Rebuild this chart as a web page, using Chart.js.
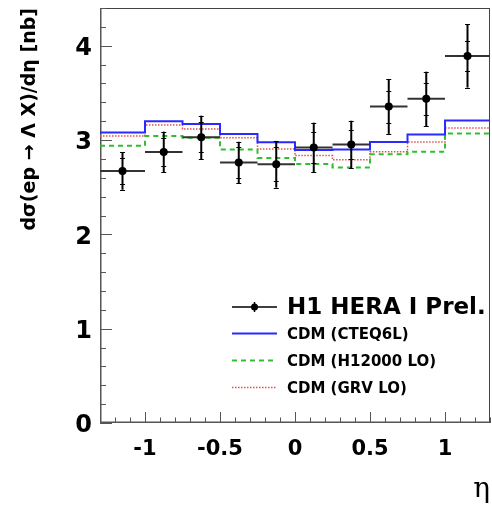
<!DOCTYPE html>
<html>
<head>
<meta charset="utf-8">
<script src="https://cdn.jsdelivr.net/npm/chart.js@4"></script>
<style>
  html, body { margin: 0; padding: 0; background: #fff; }
</style>
</head>
<body>
<canvas id="myChart" width="492" height="508"></canvas>
<script>
// Bins in eta
const binEdges = [-1.3, -1.0, -0.75, -0.5, -0.25, 0, 0.25, 0.5, 0.75, 1.0, 1.3];
const etaCenters = [-1.15, -0.875, -0.625, -0.375, -0.125, 0.125, 0.375, 0.625, 0.875, 1.15];

// H1 data with stat and total errors
const h1Values = [2.673, 2.874, 3.029, 2.762, 2.743, 2.921, 2.953, 3.355, 3.437, 3.892];
const statErr = [0.14, 0.15, 0.16, 0.16, 0.18, 0.16, 0.15, 0.17, 0.17, 0.16];
const totalErr = [0.20, 0.215, 0.23, 0.22, 0.248, 0.263, 0.252, 0.29, 0.288, 0.336];

// CDM predictions
const cteq6l = [3.08, 3.20, 3.17, 3.065, 2.977, 2.895, 2.90, 2.98, 3.06, 3.206];
const h12000 = [2.94, 3.043, 3.025, 2.90, 2.81, 2.746, 2.71, 2.85, 2.877, 3.07];
const grvLo = [3.043, 3.16, 3.118, 3.025, 2.905, 2.835, 2.79, 2.877, 2.98, 3.128];

// Axis ticks
const xTicks = [-1, -0.5, 0, 0.5, 1];
const yTicks = [0, 1, 2, 3, 4];

// histogram as step line: value i holds from edge i to edge i+1
function histPoints(values) {
  const pts = values.map((v, i) => ({ x: binEdges[i], y: v }));
  pts.push({ x: binEdges[binEdges.length - 1], y: values[values.length - 1] });
  return pts;
}

// frame with inner ticks (ROOT style)
const framePlugin = {
  id: "frame",
  beforeDatasetsDraw(chart) {
    const { ctx, chartArea: a, scales: { x, y } } = chart;
    ctx.save();
    ctx.strokeStyle = "#444";
    ctx.lineWidth = 1;
    ctx.strokeRect(a.left + 0.5, a.top + 0.5, a.right - a.left - 1, a.bottom - a.top - 1);
    ctx.strokeStyle = "#555";
    ctx.lineWidth = 1.5;
    ctx.beginPath();
    ctx.moveTo(a.left + 0.75, a.top);
    ctx.lineTo(a.left + 0.75, a.bottom - 0.75);
    ctx.lineTo(a.right, a.bottom - 0.75);
    ctx.stroke();
    ctx.lineWidth = 1;
    ctx.beginPath();
    for (let i = -13; i <= 13; i++) {
      const px = Math.round(x.getPixelForValue(i / 10)) + 0.5;
      const len = i % 5 === 0 ? 11 : 5.5;
      ctx.moveTo(px, a.bottom);
      ctx.lineTo(px, a.bottom - len);
    }
    for (let i = 0; i <= 22; i++) {
      const py = Math.round(y.getPixelForValue(i / 5)) + 0.5;
      const len = i % 5 === 0 ? 12 : 6;
      ctx.moveTo(a.left, py);
      ctx.lineTo(a.left + len, py);
    }
    ctx.stroke();
    ctx.restore();
  },
};

// error bars for the H1 points
const errorBarPlugin = {
  id: "errorBars",
  afterDatasetsDraw(chart) {
    const { ctx, scales: { x, y } } = chart;
    ctx.save();
    etaCenters.forEach((eta, i) => {
      const px = x.getPixelForValue(eta);
      const py = y.getPixelForValue(h1Values[i]);
      // horizontal bin width
      ctx.strokeStyle = "#333";
      ctx.lineWidth = 2;
      ctx.beginPath();
      ctx.moveTo(x.getPixelForValue(binEdges[i]), py);
      ctx.lineTo(x.getPixelForValue(binEdges[i + 1]), py);
      ctx.stroke();
      // vertical total error
      ctx.strokeStyle = "#000";
      ctx.beginPath();
      ctx.moveTo(px, y.getPixelForValue(h1Values[i] + totalErr[i]));
      ctx.lineTo(px, y.getPixelForValue(h1Values[i] - totalErr[i]));
      ctx.stroke();
      // small marks at stat and total errors
      ctx.lineWidth = 1;
      ctx.beginPath();
      [statErr[i], -statErr[i], totalErr[i], -totalErr[i]].forEach((e) => {
        const ey = Math.round(y.getPixelForValue(h1Values[i] + e)) + 0.5;
        ctx.moveTo(px - 2.5, ey);
        ctx.lineTo(px + 2.5, ey);
      });
      ctx.stroke();
      ctx.fillStyle = "#000";
      ctx.beginPath();
      ctx.arc(px, py, 4, 0, Math.PI * 2);
      ctx.fill();
    });
    ctx.restore();
  },
};

// legend inside the plot
const legendPlugin = {
  id: "rootLegend",
  afterDraw(chart) {
    const { ctx } = chart;
    const ds = chart.data.datasets;
    const x0 = 232, x1 = 277, tx = 287;
    ctx.save();
    ctx.textBaseline = "middle";
    ctx.fillStyle = "#000";
    // data entry
    let ly = 307;
    ctx.strokeStyle = "#000";
    ctx.lineWidth = 1.5;
    ctx.beginPath();
    ctx.moveTo(x0, ly);
    ctx.lineTo(x1, ly);
    ctx.moveTo((x0 + x1) / 2, ly - 5);
    ctx.lineTo((x0 + x1) / 2, ly + 5);
    ctx.stroke();
    ctx.beginPath();
    ctx.arc((x0 + x1) / 2, ly, 3.5, 0, Math.PI * 2);
    ctx.fill();
    ctx.font = "bold 23px 'DejaVu Sans'";
    ctx.fillText(ds[0].label, tx, ly + 1);
    // model entries
    ctx.font = "bold 15px 'DejaVu Sans'";
    [333.5, 360.5, 387.5].forEach((yy, k) => {
      const d = ds[k + 1];
      ctx.strokeStyle = d.borderColor;
      ctx.lineWidth = d.borderWidth;
      ctx.setLineDash(d.borderDash || []);
      ctx.beginPath();
      ctx.moveTo(x0, yy);
      ctx.lineTo(x1, yy);
      ctx.stroke();
      ctx.setLineDash([]);
      ctx.fillText(d.label, tx, yy + 1.5);
    });
    ctx.restore();
  },
};

const ctx = document.getElementById("myChart").getContext("2d");

const myChart = new Chart(ctx, {
  type: "scatter",
  data: {
    datasets: [
      {
        label: "H1 HERA I Prel.",
        data: etaCenters.map((e, i) => ({ x: e, y: h1Values[i] })),
        pointRadius: 0,
        showLine: false,
      },
      {
        label: "CDM (CTEQ6L)",
        data: histPoints(cteq6l),
        showLine: true,
        stepped: "before",
        borderColor: "#2a2aff",
        borderWidth: 2,
        pointRadius: 0,
        fill: false,
      },
      {
        label: "CDM (H12000 LO)",
        data: histPoints(h12000),
        showLine: true,
        stepped: "before",
        borderColor: "#2fbf2f",
        borderWidth: 2,
        borderDash: [5, 4],
        pointRadius: 0,
        fill: false,
      },
      {
        label: "CDM (GRV LO)",
        data: histPoints(grvLo),
        showLine: true,
        stepped: "before",
        borderColor: "#e05050",
        borderWidth: 1.5,
        borderDash: [1.5, 1.5],
        pointRadius: 0,
        fill: false,
      },
    ],
  },
  options: {
    responsive: false,
    animation: false,
    layout: { padding: { top: 8, right: 2, left: 0, bottom: 0 } },
    scales: {
      x: {
        type: "linear",
        min: -1.3,
        max: 1.3,
        grid: { display: false, drawTicks: false },
        border: { display: false },
        afterBuildTicks: (s) => { s.ticks = xTicks.map((v) => ({ value: v })); },
        afterFit: (s) => {
          s.height = 85;
          s.paddingLeft = 0;
          s.paddingRight = 0;
        },
        ticks: {
          autoSkip: false,
          maxRotation: 0,
          padding: 14,
          color: "#000",
          font: { family: "DejaVu Sans", size: 21, weight: "bold" },
          callback: (v) => String(v),
        },
        title: {
          display: true,
          text: "η",
          align: "end",
          color: "#000",
          font: { family: "DejaVu Serif", size: 28 },
          padding: { top: 0, bottom: 1 },
        },
      },
      y: {
        min: 0,
        max: 4.4,
        grid: { display: false, drawTicks: false },
        border: { display: false },
        afterBuildTicks: (s) => { s.ticks = yTicks.map((v) => ({ value: v })); },
        afterFit: (s) => {
          s.width = 100;
          s.paddingTop = 0;
          s.paddingBottom = 0;
        },
        ticks: {
          autoSkip: false,
          padding: 8,
          labelOffset: 3,
          color: "#000",
          font: { family: "DejaVu Sans", size: 24, weight: "bold" },
          callback: (v) => String(v),
        },
        title: {
          display: true,
          text: "dσ(ep → Λ X)/dη [nb]",
          align: "end",
          color: "#000",
          font: { family: "DejaVu Sans", size: 19, weight: "bold" },
          padding: { top: 19, bottom: 0 },
        },
      },
    },
    plugins: {
      legend: { display: false },
      tooltip: { enabled: false },
    },
  },
  plugins: [framePlugin, errorBarPlugin, legendPlugin],
});
</script>
</body>
</html>
